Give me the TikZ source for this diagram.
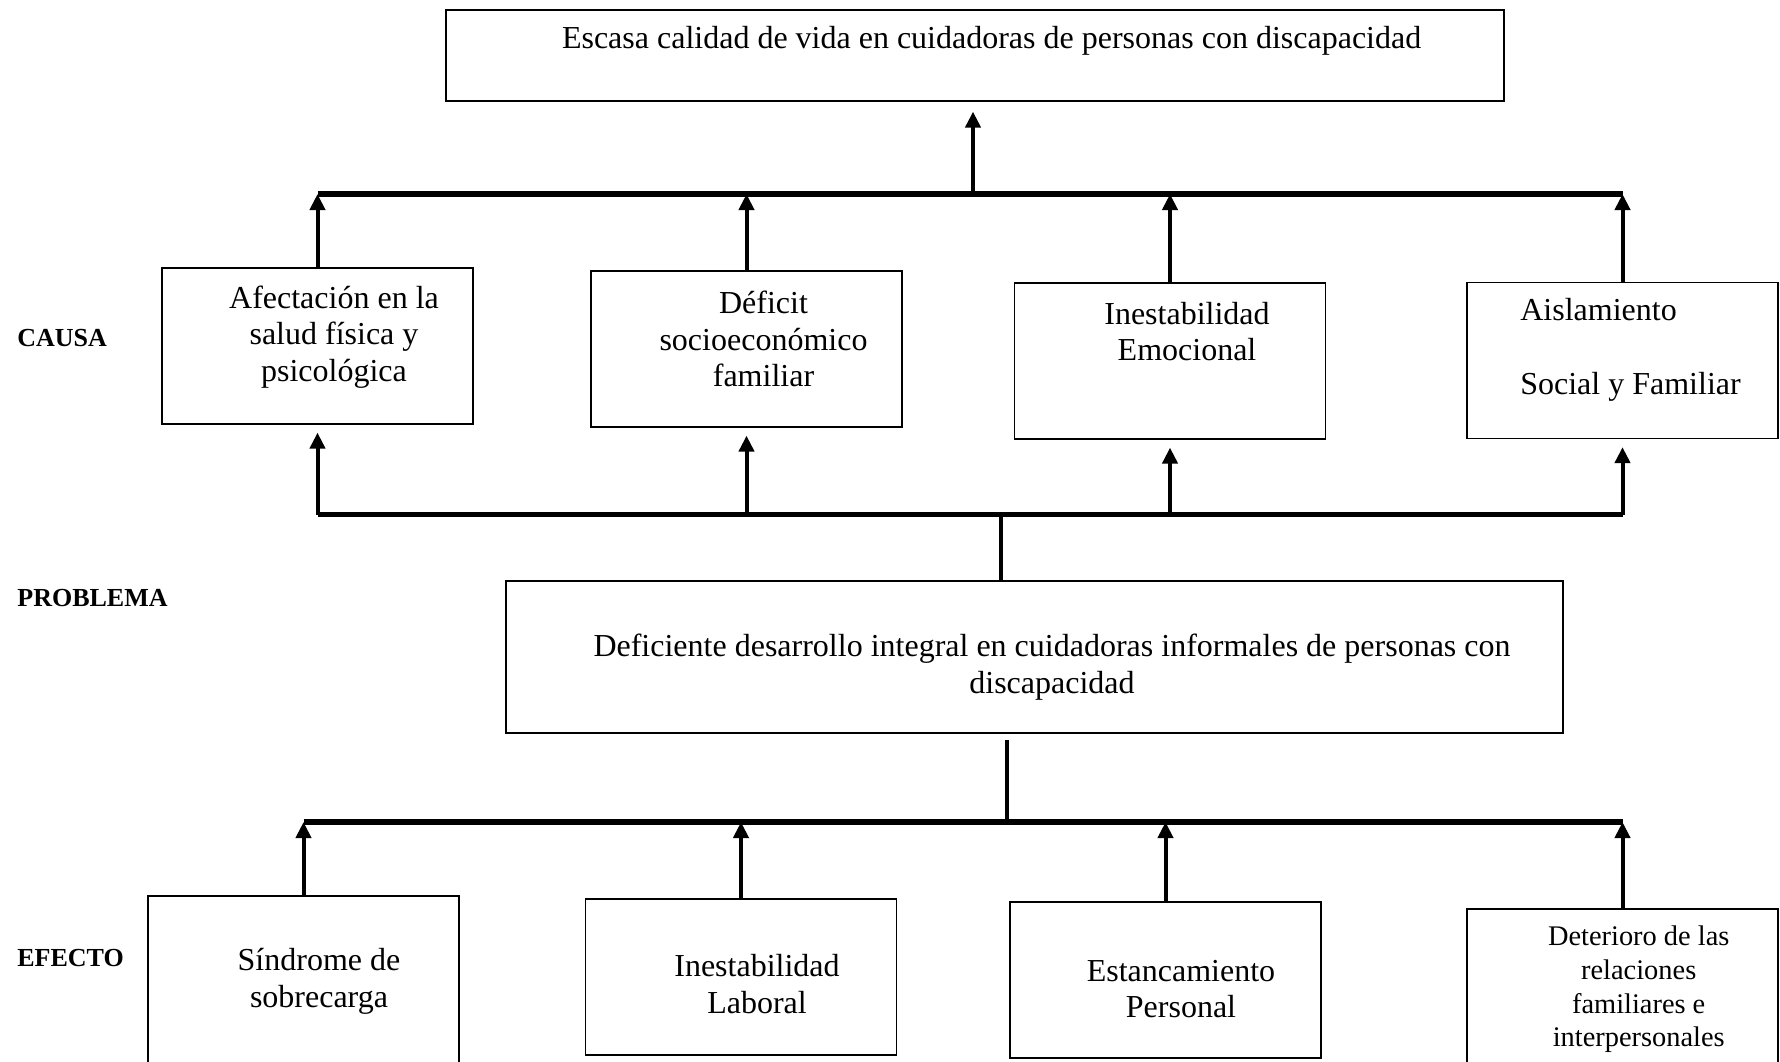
\documentclass[tikz,border=0pt]{standalone}
\usepackage{fontspec}
\setmainfont{Liberation Serif}
\usetikzlibrary{arrows.meta}

\begin{document}
\begin{tikzpicture}[
        x=0.5pt, y=-0.5pt,
        caja/.style={
            draw=black,
            line width=0.6pt,
            minimum width=155.5pt,
            minimum height=78pt,
            inner sep=0pt
        },
        texto/.style={
            align=center,
            font=\fontsize{16}{18.4}\selectfont
        },
        rotulo/.style={
            anchor=west,
            inner sep=0pt,
            font=\fontsize{13}{15}\selectfont\bfseries
        },
        barra/.style={
            line width=2.8pt
        },
        enlace/.style={
            line width=1.7pt
        },
        flecha/.style={
            -{Triangle[length=8pt,width=7.5pt]},
            line width=2pt
        }
    ]
        \useasboundingbox (0,0) rectangle (1780,1061);

        % fin
        \node[caja, minimum width=529pt, minimum height=45.5pt] (vida) at (975,55.5) {};
        \node[texto] (vida-t) at (991.6,41)
            {Escasa calidad de vida en cuidadoras de personas con discapacidad};

        % causas
        \node[caja] (afectacion) at (317.5,346) {};
        \node[caja] (deficit) at (746.5,349) {};
        \node[caja] (inestabilidad) at (1170,361) {};
        \node[caja] (aislamiento) at (1622.5,360.5) {};
        \node[texto] (afectacion-t) at (334,337)
            {Afectación en la\\salud física y\\psicológica};
        \node[texto] (deficit-t) at (763.5,339)
            {Déficit\\socioeconómico\\familiar};
        \node[texto] (inestabilidad-t) at (1187,331.5)
            {Inestabilidad\\Emocional};
        \node[texto, align=left] (aislamiento-t) at (1630.5,350)
            {Aislamiento\\[18.4pt]Social y Familiar};

        % problema
        \node[caja, minimum width=528.5pt, minimum height=76pt] (problema) at (1034.5,657) {};
        \node[texto] (problema-t) at (1052,667)
            {Deficiente desarrollo integral en cuidadoras informales de personas con\\discapacidad};

        % efectos
        \node[caja, minimum height=88pt] (sindrome) at (303.5,984) {};
        \node[caja] (laboral) at (741,977) {};
        \node[caja] (estancamiento) at (1165.5,980) {};
        \node[caja, minimum height=83pt] (deterioro) at (1622.5,992) {};
        \node[texto] (sindrome-t) at (319,981.5)
            {Síndrome de\\sobrecarga};
        \node[texto] (laboral-t) at (757,984)
            {Inestabilidad\\Laboral};
        \node[texto] (estancamiento-t) at (1181,989)
            {Estancamiento\\Personal};
        \node[texto, font=\fontsize{14.2}{16.8}\selectfont] (deterioro-t) at (1638.7,989.5)
            {Deterioro de las\\relaciones\\familiares e\\interpersonales};

        % rotulos
        \node[rotulo] (causa) at (17,338) {CAUSA};
        \node[rotulo] (problema-r) at (17,598) {PROBLEMA};
        \node[rotulo] (efecto) at (17,958) {EFECTO};

        % barras y flechas
        \coordinate (barraA) at (0,194);
        \coordinate (barraB) at (0,514.5);
        \coordinate (barraC) at (0,822);
        \coordinate (nudoA) at (973,194);
        \coordinate (nudoB) at (1001,514.5);
        \coordinate (nudoC) at (1007,822);

        \draw[barra] (afectacion |- barraA) -- (aislamiento |- barraA);
        \draw[barra] (afectacion |- barraB) -- (aislamiento |- barraB);
        \draw[barra] (sindrome |- barraC) -- (deterioro |- barraC);

        \draw[flecha, shorten >=5pt] (nudoA) -- (nudoA |- vida.south);
        \foreach \c in {afectacion,deficit,inestabilidad,aislamiento} {
            \draw[flecha] (\c.north) -- (\c |- barraA);
            \draw[flecha, shorten >=4pt] (\c |- barraB) -- (\c.south);
        }
        \draw[enlace] (nudoB) -- (nudoB |- problema.north);
        \draw[enlace, shorten <=3pt] (nudoC |- problema.south) -- (nudoC);
        \foreach \e in {sindrome,laboral,estancamiento,deterioro}
            \draw[flecha] (\e.north) -- (\e |- barraC);
    \end{tikzpicture}
\end{document}
